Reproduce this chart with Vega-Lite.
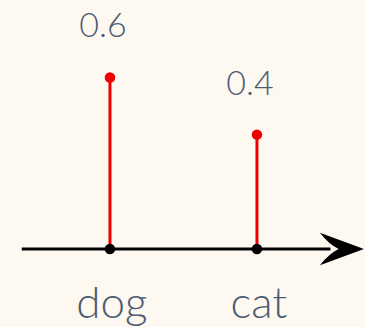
{
  "$schema": "https://vega.github.io/schema/vega-lite/v6.json",
  "width": 365,
  "height": 327,
  "autosize": {"type": "fit", "contains": "padding"},
  "padding": 0,
  "background": "#fdf9f1",
  "config": {"view": {"stroke": null}},
  "datasets": {
    "items": [
      {"animal": "dog", "idx": 1, "p": 0.6, "label": "0.6"},
      {"animal": "cat", "idx": 2, "p": 0.4, "label": "0.4"}
    ],
    "baseline": [{"x0": 0.4, "x1": 2.5, "y": 0, "tip": 2.578}]
  },
  "encoding": {
    "x": {"type": "quantitative", "scale": {"domain": [0.252, 2.735], "nice": false, "zero": false}, "axis": null},
    "y": {"type": "quantitative", "scale": {"domain": [-0.273, 0.871], "nice": false, "zero": false}, "axis": null}
  },
  "layer": [
    {
      "data": {"name": "baseline"},
      "mark": {"type": "rule", "color": "black", "strokeWidth": 3},
      "encoding": {
        "x": {"field": "x0", "type": "quantitative"},
        "x2": {"field": "x1"},
        "y": {"field": "y", "type": "quantitative"}
      }
    },
    {
      "data": {"name": "baseline"},
      "mark": {"type": "point", "filled": true, "color": "black", "opacity": 1, "size": 1936,
        "shape": "M1,0 L-1,-0.74 Q-0.6,-0.22 -0.15,0 Q-0.6,0.22 -1,0.74 Z"},
      "encoding": {
        "x": {"field": "tip", "type": "quantitative"},
        "y": {"field": "y", "type": "quantitative"}
      }
    },
    {
      "data": {"name": "items"},
      "mark": {"type": "rule", "color": "#ee0000", "strokeWidth": 3},
      "encoding": {
        "x": {"field": "idx", "type": "quantitative"},
        "y": {"field": "p", "type": "quantitative"},
        "y2": {"datum": 0}
      }
    },
    {
      "data": {"name": "items"},
      "mark": {"type": "circle", "color": "#ee0000", "opacity": 1, "size": 110},
      "encoding": {
        "x": {"field": "idx", "type": "quantitative"},
        "y": {"field": "p", "type": "quantitative"}
      }
    },
    {
      "data": {"name": "items"},
      "mark": {"type": "circle", "color": "black", "opacity": 1, "size": 110},
      "encoding": {
        "x": {"field": "idx", "type": "quantitative"},
        "y": {"datum": 0, "type": "quantitative"}
      }
    },
    {
      "data": {"name": "items"},
      "mark": {"type": "text", "font": "Lato", "fontWeight": 300, "fontSize": 34, "color": "#4d5c74",
        "align": "center", "baseline": "alphabetic", "dx": -7, "dy": -40},
      "encoding": {
        "x": {"field": "idx", "type": "quantitative"},
        "y": {"field": "p", "type": "quantitative"},
        "text": {"field": "label"}
      }
    },
    {
      "data": {"name": "items"},
      "mark": {"type": "text", "font": "Lato", "fontWeight": 300, "fontSize": 44, "color": "#4d5c74",
        "align": "center", "baseline": "alphabetic", "dx": 2, "dy": 69},
      "encoding": {
        "x": {"field": "idx", "type": "quantitative"},
        "y": {"datum": 0, "type": "quantitative"},
        "text": {"field": "animal"}
      }
    }
  ]
}
